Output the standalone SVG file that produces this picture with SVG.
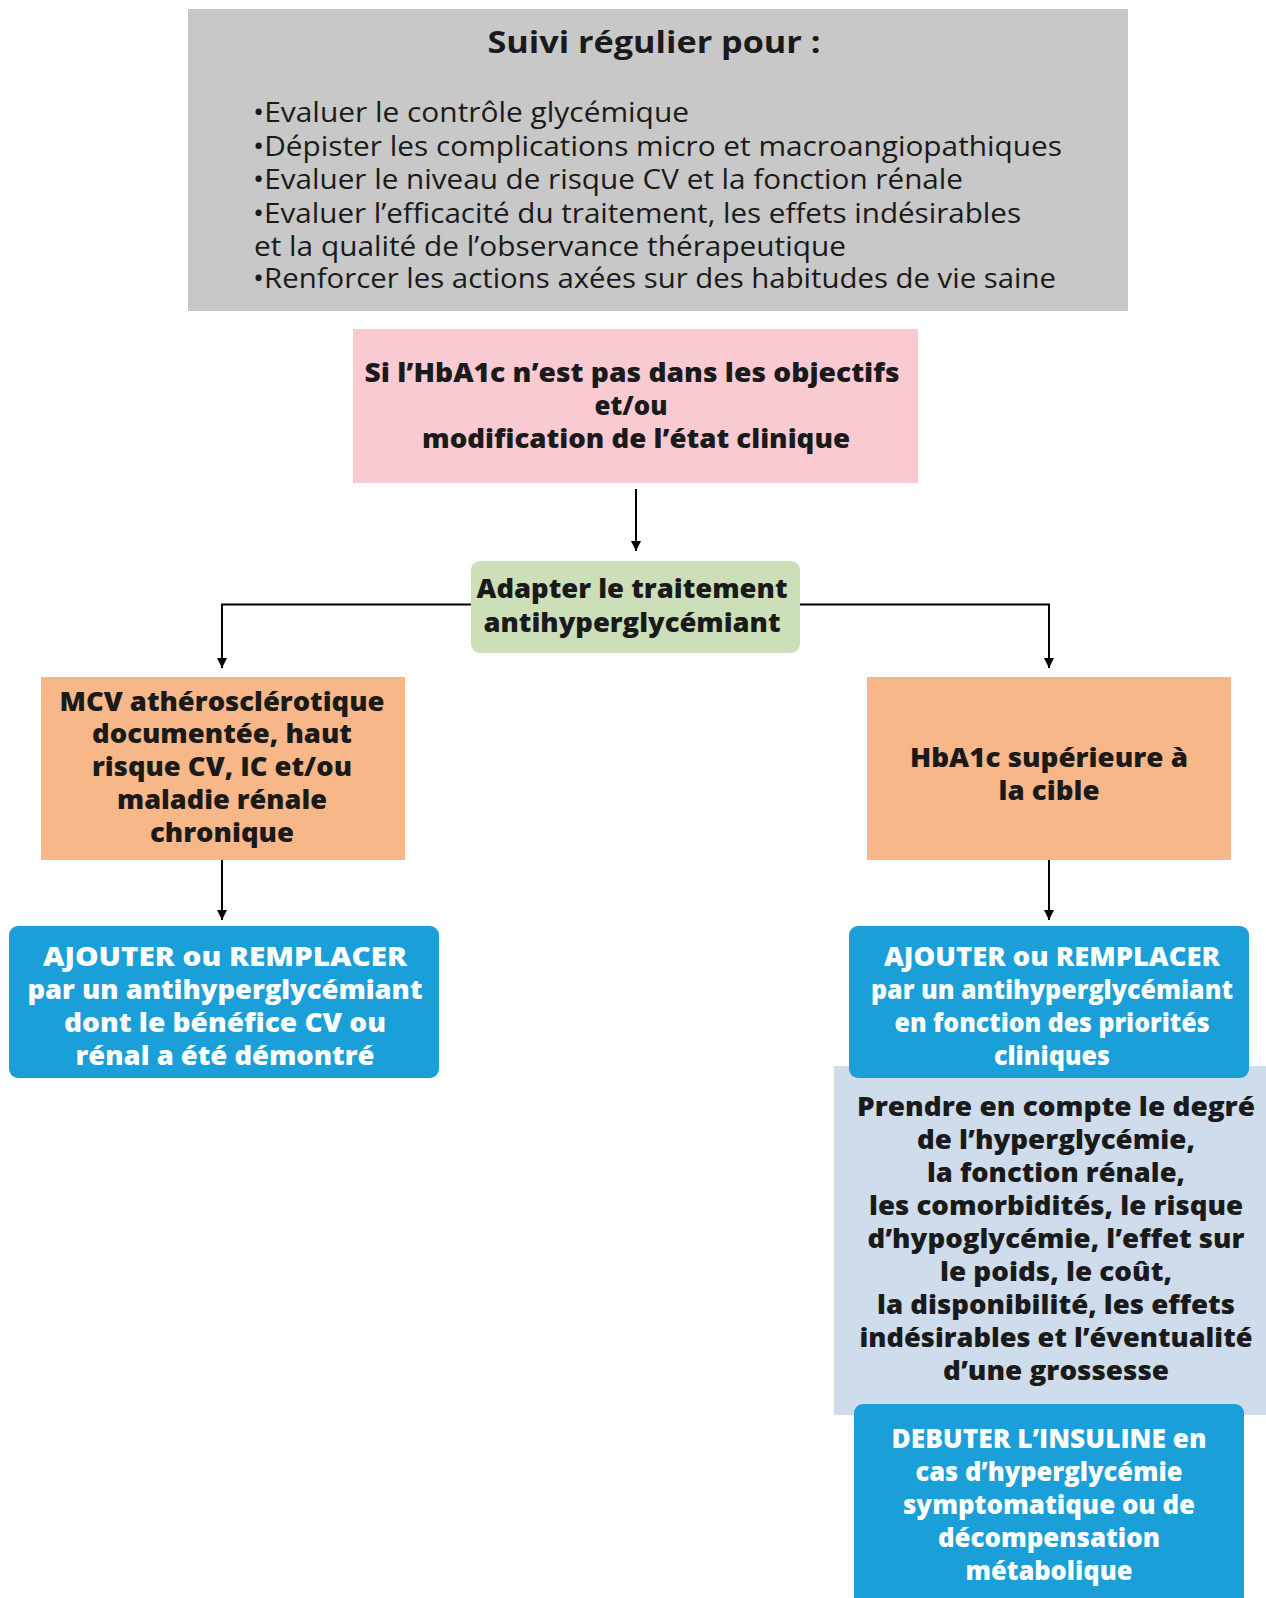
<svg xmlns="http://www.w3.org/2000/svg" width="1266" height="1598" viewBox="0 0 1266 1598">
<style>
.b{font-family:"Open Sans","Liberation Sans",sans-serif;font-weight:800;font-size:26px;fill:#1a1a1a;text-anchor:middle}
.w{fill:#ffffff}
.g{font-family:"Open Sans","Liberation Sans",sans-serif;font-weight:500;font-size:27px;fill:#1a1a1a}
.t{font-family:"Open Sans","Liberation Sans",sans-serif;font-weight:700;font-size:31px;fill:#1a1a1a;text-anchor:middle}
.c{fill:none;stroke:#000;stroke-width:2}
</style>
<defs>
<marker id="ah" markerUnits="userSpaceOnUse" markerWidth="12" markerHeight="12" refX="10" refY="5" orient="auto">
<path d="M0,0 L10,5 L0,10 z" fill="#000"/>
</marker>
</defs>
<rect width="1266" height="1598" fill="#ffffff"/>

<g id="suivi">
<rect x="188" y="9" width="940" height="302" fill="#c8c8c8"/>
<text class="t" x="654" y="53" textLength="333" lengthAdjust="spacingAndGlyphs">Suivi régulier pour :</text>
<text class="g" x="253" y="122" textLength="436" lengthAdjust="spacingAndGlyphs">•Evaluer le contrôle glycémique</text>
<text class="g" x="253" y="156" textLength="809" lengthAdjust="spacingAndGlyphs">•Dépister les complications micro et macroangiopathiques</text>
<text class="g" x="253" y="189" textLength="710" lengthAdjust="spacingAndGlyphs">•Evaluer le niveau de risque CV et la fonction rénale</text>
<text class="g" x="253" y="223" textLength="768" lengthAdjust="spacingAndGlyphs">•Evaluer l’efficacité du traitement, les effets indésirables</text>
<text class="g" x="254" y="256" textLength="592" lengthAdjust="spacingAndGlyphs">et la qualité de l’observance thérapeutique</text>
<text class="g" x="253" y="288" textLength="803" lengthAdjust="spacingAndGlyphs">•Renforcer les actions axées sur des habitudes de vie saine</text>
</g>

<g id="condition">
<rect x="353" y="329" width="565" height="154" fill="#f9cad2"/>
<text class="b" x="632" y="382" textLength="535" lengthAdjust="spacingAndGlyphs">Si l’HbA1c n’est pas dans les objectifs</text>
<text class="b" x="631" y="415" textLength="73" lengthAdjust="spacingAndGlyphs">et/ou</text>
<text class="b" x="636" y="448" textLength="428" lengthAdjust="spacingAndGlyphs">modification de l’état clinique</text>
</g>

<g id="adapter">
<rect x="471" y="561" width="329" height="92" rx="9" fill="#cddfb9"/>
<text class="b" x="632" y="598" textLength="311" lengthAdjust="spacingAndGlyphs">Adapter le traitement</text>
<text class="b" x="632" y="632" textLength="297" lengthAdjust="spacingAndGlyphs">antihyperglycémiant</text>
</g>

<g id="mcv">
<rect x="41" y="677" width="364" height="183" fill="#f8b788"/>
<text class="b" x="222" y="711" textLength="325" lengthAdjust="spacingAndGlyphs">MCV athérosclérotique</text>
<text class="b" x="222" y="743" textLength="260" lengthAdjust="spacingAndGlyphs">documentée, haut</text>
<text class="b" x="222" y="776" textLength="260" lengthAdjust="spacingAndGlyphs">risque CV, IC et/ou</text>
<text class="b" x="222" y="809" textLength="210" lengthAdjust="spacingAndGlyphs">maladie rénale</text>
<text class="b" x="222" y="842" textLength="144" lengthAdjust="spacingAndGlyphs">chronique</text>
</g>

<g id="hba1c">
<rect x="867" y="677" width="364" height="183" fill="#f8b788"/>
<text class="b" x="1049" y="767" textLength="278" lengthAdjust="spacingAndGlyphs">HbA1c supérieure à</text>
<text class="b" x="1049" y="800" textLength="101" lengthAdjust="spacingAndGlyphs">la cible</text>
</g>

<g id="ajouter-cv">
<rect x="9" y="926" width="430" height="152" rx="9" fill="#1a9fd8"/>
<text class="b w" x="225" y="966" textLength="364" lengthAdjust="spacingAndGlyphs">AJOUTER ou REMPLACER</text>
<text class="b w" x="225" y="999" textLength="395" lengthAdjust="spacingAndGlyphs">par un antihyperglycémiant</text>
<text class="b w" x="225" y="1032" textLength="322" lengthAdjust="spacingAndGlyphs">dont le bénéfice CV ou</text>
<text class="b w" x="225" y="1065" textLength="299" lengthAdjust="spacingAndGlyphs">rénal a été démontré</text>
</g>

<g id="prendre">
<rect x="834" y="1066" width="432" height="349" fill="#cfdcec"/>
<text class="b" x="1056" y="1116" textLength="398" lengthAdjust="spacingAndGlyphs">Prendre en compte le degré</text>
<text class="b" x="1056" y="1149" textLength="278" lengthAdjust="spacingAndGlyphs">de l’hyperglycémie,</text>
<text class="b" x="1056" y="1182" textLength="258" lengthAdjust="spacingAndGlyphs">la fonction rénale,</text>
<text class="b" x="1056" y="1215" textLength="374" lengthAdjust="spacingAndGlyphs">les comorbidités, le risque</text>
<text class="b" x="1056" y="1248" textLength="377" lengthAdjust="spacingAndGlyphs">d’hypoglycémie, l’effet sur</text>
<text class="b" x="1056" y="1281" textLength="232" lengthAdjust="spacingAndGlyphs">le poids, le coût,</text>
<text class="b" x="1056" y="1314" textLength="358" lengthAdjust="spacingAndGlyphs">la disponibilité, les effets</text>
<text class="b" x="1056" y="1347" textLength="393" lengthAdjust="spacingAndGlyphs">indésirables et l’éventualité</text>
<text class="b" x="1056" y="1380" textLength="226" lengthAdjust="spacingAndGlyphs">d’une grossesse</text>
</g>

<g id="ajouter-priorites">
<rect x="849" y="926" width="400" height="152" rx="9" fill="#1a9fd8"/>
<text class="b w" x="1052" y="966" textLength="336" lengthAdjust="spacingAndGlyphs">AJOUTER ou REMPLACER</text>
<text class="b w" x="1052" y="999" textLength="362" lengthAdjust="spacingAndGlyphs">par un antihyperglycémiant</text>
<text class="b w" x="1052" y="1032" textLength="315" lengthAdjust="spacingAndGlyphs">en fonction des priorités</text>
<text class="b w" x="1052" y="1065" textLength="116" lengthAdjust="spacingAndGlyphs">cliniques</text>
</g>

<g id="insuline">
<rect x="854" y="1404" width="390" height="210" rx="9" fill="#1a9fd8"/>
<text class="b w" x="1049" y="1448" textLength="315" lengthAdjust="spacingAndGlyphs">DEBUTER L’INSULINE en</text>
<text class="b w" x="1049" y="1481" textLength="267" lengthAdjust="spacingAndGlyphs">cas d’hyperglycémie</text>
<text class="b w" x="1049" y="1514" textLength="292" lengthAdjust="spacingAndGlyphs">symptomatique ou de</text>
<text class="b w" x="1049" y="1547" textLength="222" lengthAdjust="spacingAndGlyphs">décompensation</text>
<text class="b w" x="1049" y="1580" textLength="167" lengthAdjust="spacingAndGlyphs">métabolique</text>
</g>

<g id="connectors">
<path class="c" d="M636,489 L636,551" marker-end="url(#ah)"/>
<path class="c" d="M471,604.5 L222,604.5 L222,668" marker-end="url(#ah)"/>
<path class="c" d="M800,604.5 L1049,604.5 L1049,668" marker-end="url(#ah)"/>
<path class="c" d="M222,860 L222,920" marker-end="url(#ah)"/>
<path class="c" d="M1049,860 L1049,920" marker-end="url(#ah)"/>
</g>
</svg>
